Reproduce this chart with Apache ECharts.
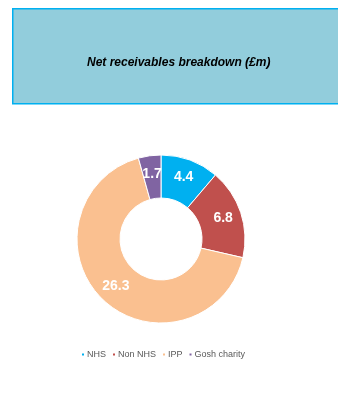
<!DOCTYPE html>
<html><head><meta charset="utf-8">
<script src="https://cdn.jsdelivr.net/npm/echarts@6/dist/echarts.min.js"></script>
<style>html,body{margin:0;padding:0;background:#fff}#c{width:338px;height:396px}</style>
</head><body><div id="c"></div>
<script>
const categories = ['NHS', 'Non NHS', 'IPP', 'Gosh charity'];
const values = [4.4, 6.8, 26.3, 1.7];
const colors = ['#00B0F0', '#C0504D', '#FAC090', '#8064A2'];
const titleText = 'Net receivables breakdown (£m)';

const chart = echarts.init(document.getElementById('c'), null, {renderer: 'canvas'});
chart.setOption({
  animation: false,
  graphic: [
    {type: 'rect', left: 12, top: 8, shape: {width: 330, height: 95},
     style: {fill: '#92CDDC', stroke: '#00B0F0', lineWidth: 1.5}, z: 0},
    {type: 'text', left: 87, top: 57, style: {text: titleText, font: 'italic bold 12px Liberation Sans, Arial, sans-serif', fill: '#000'}, z: 1}
  ],
  legend: {
    bottom: 32, left: 75,
    itemWidth: 4, itemHeight: 4, itemGap: 5, icon: 'rect',
    textStyle: {fontFamily: 'Liberation Sans, Arial', fontSize: 9, color: '#595959', padding: [0, 0, 0, -3]},
    data: categories
  },
  series: [{
    type: 'pie',
    center: [161, 239],
    radius: [41, 84],
    startAngle: 90,
    clockwise: true,
    itemStyle: {borderColor: '#fff', borderWidth: 1},
    label: {show: true, position: 'inside', color: '#fff', fontWeight: 'bold', fontSize: 14, fontFamily: 'Liberation Sans, Arial', formatter: p => p.value.toFixed(1)},
    labelLine: {show: false},
    data: categories.map((n, i) => ({name: n, value: values[i], itemStyle: {color: colors[i]}}))
  }]
});
</script></body></html>
